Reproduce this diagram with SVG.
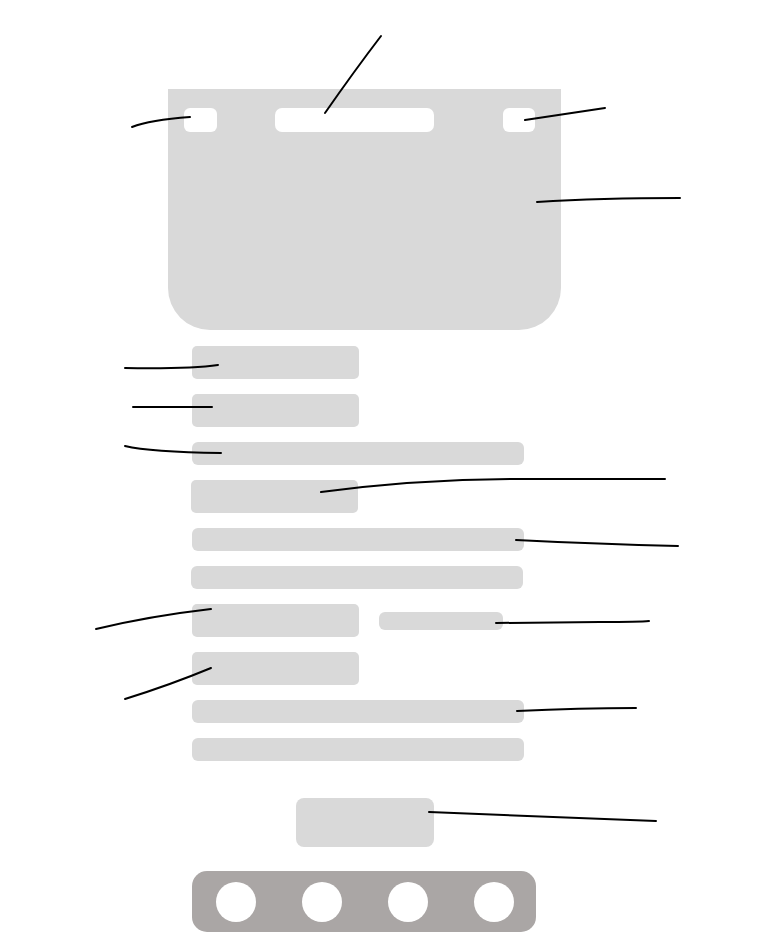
<svg xmlns="http://www.w3.org/2000/svg" width="772" height="941" viewBox="0 0 772 941">
  <style>
    .block { fill: #d9d9d9; }
    .hole { fill: #ffffff; }
    .nav { fill: #aaa6a5; }
    .lead { fill: none; stroke: #000000; stroke-width: 2; stroke-linecap: round; }
  </style>
  <rect width="772" height="941" fill="#ffffff"/>

  <!-- header area with toolbar controls -->
  <g id="header">
    <path class="block" d="M168,89 H561 V288 A42,42 0 0 1 519,330 H210 A42,42 0 0 1 168,288 Z"/>
    <rect id="header-left-btn" class="hole" x="184" y="108" width="33" height="24" rx="6"/>
    <rect id="header-title" class="hole" x="275" y="108" width="159" height="24" rx="7"/>
    <rect id="header-right-btn" class="hole" x="503" y="108" width="32" height="24" rx="6"/>
  </g>

  <!-- form rows -->
  <g id="row1"><rect class="block" x="192" y="346" width="167" height="33" rx="5"/></g>
  <g id="row2"><rect class="block" x="192" y="394" width="167" height="33" rx="5"/></g>
  <g id="row3"><rect class="block" x="192" y="442" width="332" height="23" rx="6"/></g>
  <g id="row4"><rect class="block" x="191" y="480" width="167" height="33" rx="5"/></g>
  <g id="row5"><rect class="block" x="192" y="528" width="332" height="23" rx="6"/></g>
  <g id="row6"><rect class="block" x="191" y="566" width="332" height="23" rx="6"/></g>
  <g id="row7"><rect class="block" x="192" y="604" width="167" height="33" rx="5"/></g>
  <g id="row7-tag"><rect class="block" x="379" y="612" width="124" height="18" rx="6"/></g>
  <g id="row8"><rect class="block" x="192" y="652" width="167" height="33" rx="5"/></g>
  <g id="row9"><rect class="block" x="192" y="700" width="332" height="23" rx="6"/></g>
  <g id="row10"><rect class="block" x="192" y="738" width="332" height="23" rx="6"/></g>

  <!-- action button -->
  <g id="action-button"><rect class="block" x="296" y="798" width="138" height="49" rx="8"/></g>

  <!-- bottom navigation bar -->
  <g id="nav-bar">
    <rect class="nav" x="192" y="871" width="344" height="61" rx="15"/>
    <circle class="hole" cx="236" cy="902" r="20"/>
    <circle class="hole" cx="322" cy="902" r="20"/>
    <circle class="hole" cx="408" cy="902" r="20"/>
    <circle class="hole" cx="494" cy="902" r="20"/>
  </g>

  <!-- leader lines -->
  <g id="connectors">
    <path class="lead" d="M381,36 Q355,70 325,113"/>
    <path class="lead" d="M132,127 Q150,120 190,117"/>
    <path class="lead" d="M525,120 L605,108"/>
    <path class="lead" d="M537,202 Q600,198 680,198"/>
    <path class="lead" d="M125,368 Q190,369 218,365"/>
    <path class="lead" d="M133,407 L212,407"/>
    <path class="lead" d="M125,446 Q150,452 221,453"/>
    <path class="lead" d="M321,492 Q420,479 520,479 L665,479"/>
    <path class="lead" d="M516,540 Q600,544 678,546"/>
    <path class="lead" d="M96,629 Q150,616 211,609"/>
    <path class="lead" d="M496,623 L600,622 Q640,622 649,621"/>
    <path class="lead" d="M125,699 Q170,685 211,668"/>
    <path class="lead" d="M517,711 Q580,708 636,708"/>
    <path class="lead" d="M429,812 L656,821"/>
  </g>
</svg>
